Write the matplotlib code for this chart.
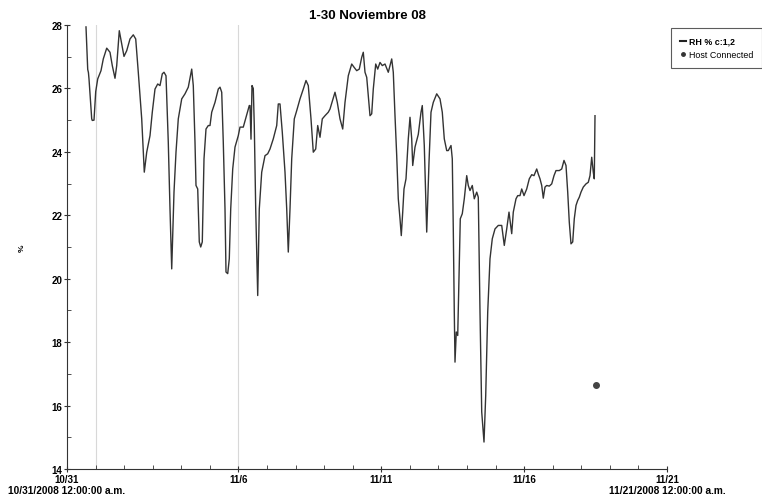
import numpy as np
import pandas as pd
import matplotlib
matplotlib.use('Agg')
import matplotlib.pyplot as plt
import matplotlib.dates as mdates
from matplotlib.lines import Line2D

plt.rcParams['font.family'] = ['Liberation Sans', 'DejaVu Sans']

# tiempo en dias desde 10/31/2008 00:00 y humedad relativa (%)
dias = [0.665, 0.725, 0.75, 0.77, 0.865, 0.885, 0.945, 1.005, 1.075, 1.19,
        1.27, 1.39, 1.505, 1.585, 1.68, 1.74, 1.83, 1.915, 1.995, 2.09,
        2.205, 2.32, 2.405, 2.495, 2.615, 2.705, 2.79, 2.905, 2.985, 3.08,
        3.175, 3.255, 3.335, 3.395, 3.465, 3.545, 3.605, 3.665, 3.745, 3.815,
        3.895, 4.015, 4.13, 4.245, 4.365, 4.42, 4.48, 4.515, 4.575, 4.63,
        4.68, 4.735, 4.795, 4.865, 4.945, 5.005, 5.065, 5.18, 5.295, 5.355,
        5.415, 5.47, 5.53, 5.565, 5.625, 5.68, 5.73, 5.8, 5.88, 5.995,
        6.055, 6.17, 6.265, 6.38, 6.405, 6.44, 6.475, 6.52, 6.555, 6.605,
        6.675, 6.73, 6.815, 6.93, 7.025, 7.105, 7.22, 7.34, 7.395, 7.455,
        7.535, 7.63, 7.69, 7.745, 7.805, 7.865, 7.955, 8.04, 8.155, 8.27,
        8.365, 8.445, 8.54, 8.62, 8.705, 8.775, 8.855, 8.935, 9.03, 9.145,
        9.205, 9.38, 9.46, 9.555, 9.65, 9.73, 9.845, 9.965, 10.045, 10.14,
        10.23, 10.315, 10.37, 10.43, 10.49, 10.545, 10.605, 10.665, 10.72, 10.805,
        10.875, 10.955, 11.035, 11.13, 11.245, 11.365, 11.42, 11.48, 11.54, 11.595,
        11.655, 11.7, 11.75, 11.795, 11.865, 11.945, 12.005, 12.065, 12.1, 12.18,
        12.295, 12.39, 12.435, 12.505, 12.59, 12.67, 12.74, 12.82, 12.94, 13.055,
        13.135, 13.205, 13.29, 13.345, 13.44, 13.485, 13.52, 13.555, 13.58, 13.625,
        13.675, 13.72, 13.765, 13.835, 13.905, 13.99, 14.045, 14.105, 14.185, 14.255,
        14.34, 14.395, 14.455, 14.515, 14.595, 14.655, 14.725, 14.805, 14.885, 14.98,
        15.095, 15.215, 15.305, 15.39, 15.47, 15.565, 15.62, 15.715, 15.775, 15.855,
        15.915, 15.995, 16.09, 16.18, 16.265, 16.345, 16.44, 16.495, 16.555, 16.615,
        16.67, 16.73, 16.79, 16.88, 16.965, 17.045, 17.115, 17.23, 17.315, 17.395,
        17.465, 17.525, 17.58, 17.64, 17.7, 17.755, 17.815, 17.875, 17.93, 17.99,
        18.07, 18.165, 18.245, 18.305, 18.365, 18.42, 18.455, 18.48]
rh = [27.94, 26.6, 26.5, 26.3, 25.04, 24.99, 25.0, 25.9, 26.3, 26.56,
      26.93, 27.27, 27.14, 26.72, 26.32, 26.72, 27.82, 27.4, 27.01, 27.19,
      27.56, 27.69, 27.56, 26.51, 25.04, 23.36, 23.99, 24.51, 25.25, 25.98,
      26.14, 26.09, 26.46, 26.51, 26.4, 24.3, 22.2, 20.31, 22.73, 23.99,
      25.04, 25.67, 25.83, 26.04, 26.61, 26.09, 24.3, 22.94, 22.83, 21.16,
      21.0, 21.16, 23.78, 24.72, 24.83, 24.83, 25.25, 25.56, 25.98, 26.04,
      25.88, 24.3, 22.2, 20.21, 20.16, 20.63, 22.2, 23.46, 24.15, 24.51,
      24.78, 24.78, 25.09, 25.46, 25.46, 24.4, 26.09, 26.0, 24.83, 22.2,
      19.47, 22.2, 23.36, 23.88, 23.94, 24.09, 24.41, 24.83, 25.51, 25.51,
      24.62, 23.36, 22.2, 20.84, 22.2, 23.78, 25.04, 25.3, 25.67, 25.98,
      26.25, 26.09, 25.04, 23.99, 24.09, 24.83, 24.46, 25.04, 25.14, 25.25,
      25.35, 25.88, 25.56, 25.04, 24.72, 25.56, 26.4, 26.77, 26.67, 26.56,
      26.61, 26.98, 27.14, 26.51, 26.35, 25.77, 25.14, 25.2, 25.98, 26.77,
      26.61, 26.82, 26.72, 26.77, 26.51, 26.93, 26.51, 25.14, 23.88, 22.52,
      21.89, 21.36, 22.1, 22.83, 23.15, 24.41, 25.09, 24.41, 23.57, 24.15,
      24.55, 25.25, 25.46, 24.2, 21.47, 23.67, 25.25, 25.56, 25.83, 25.67,
      25.25, 24.41, 24.04, 24.04, 24.2, 23.78, 21.57, 18.95, 17.37, 18.32,
      18.21, 20.0, 21.89, 22.05, 22.52, 23.25, 22.94, 22.78, 22.94, 22.52,
      22.73, 22.57, 18.95, 15.8, 14.85, 16.32, 18.95, 20.63, 21.26, 21.57,
      21.68, 21.68, 21.05, 21.57, 22.1, 21.42, 22.1, 22.52, 22.62, 22.62,
      22.83, 22.62, 22.83, 23.15, 23.28, 23.25, 23.46, 23.3, 23.15, 22.94,
      22.54, 22.89, 22.94, 22.92, 22.99, 23.25, 23.41, 23.41, 23.46, 23.73,
      23.57, 22.73, 21.78, 21.1, 21.16, 21.89, 22.31, 22.47, 22.57, 22.73,
      22.89, 22.99, 23.04, 23.25, 23.83, 23.36, 23.15, 25.14]

# evento "Host Connected"
host_dia = [18.505]
host_rh = [16.64]

inicio = pd.Timestamp('2008-10-31')
fin = pd.Timestamp('2008-11-21')
ticks_x = ['2008-10-31', '2008-11-06', '2008-11-11', '2008-11-16', '2008-11-21']
etiquetas_x = ['10/31', '11/6', '11/11', '11/16', '11/21']
lineas_v = ['2008-11-01', '2008-11-06']


def solve():
    t = inicio + pd.to_timedelta(np.array(dias), unit='D')
    t_host = inicio + pd.to_timedelta(np.array(host_dia), unit='D')

    fig = plt.figure(figsize=(7.62, 5.02), dpi=100)
    ax = fig.add_axes([67 / 762, 32 / 502, 600 / 762, 444 / 502])

    # lineas verticales tenues
    for d in lineas_v:
        ax.axvline(pd.Timestamp(d), color='#d8d8d8', lw=0.8, zorder=0)

    ax.plot(t, rh, color='#333333', lw=1.0)
    ax.plot(t_host, host_rh, 'o', color='#444444', ms=4)

    ax.set_xlim(inicio, fin)
    ax.set_ylim(14, 28)

    ax.set_xticks([pd.Timestamp(d) for d in ticks_x])
    ax.set_xticklabels(etiquetas_x, fontsize=7, fontweight='bold')
    ax.xaxis.set_minor_locator(mdates.DayLocator())
    ax.set_yticks(np.arange(14, 29, 2))
    ax.set_yticklabels([str(v) for v in range(14, 29, 2)],
                       fontsize=7, fontweight='bold')
    ax.set_yticks(np.arange(15, 28, 2), minor=True)

    ax.tick_params(axis='both', which='major', direction='inout', length=5,
                   width=0.8, color='#333333', pad=1)
    ax.tick_params(axis='both', which='minor', direction='in', length=3,
                   width=0.6, color='#333333')

    for s in ['top', 'right']:
        ax.spines[s].set_visible(False)
    for s in ['left', 'bottom']:
        ax.spines[s].set_color('#333333')
        ax.spines[s].set_linewidth(0.8)

    ax.set_ylabel('%', fontsize=6, fontweight='bold', labelpad=18)
    ax.set_title('1-30 Noviembre 08', fontsize=9.5, fontweight='bold', pad=5)

    ax.text(0, -0.037, '10/31/2008 12:00:00 a.m.', transform=ax.transAxes,
            ha='center', va='top', fontsize=7.3, fontweight='bold')
    ax.text(1, -0.037, '11/21/2008 12:00:00 a.m.', transform=ax.transAxes,
            ha='center', va='top', fontsize=7.3, fontweight='bold')

    handles = [Line2D([], [], color='#222222', lw=1.5),
               Line2D([], [], marker='o', ls='', color='#333333', ms=2.5)]
    leg = fig.legend(handles, ['RH % c:1,2', 'Host Connected'],
                     loc='upper left', bbox_to_anchor=(671 / 762, 1 - 29 / 502),
                     fontsize=6.4, frameon=True, fancybox=False,
                     handlelength=0.7, handletextpad=0.3, borderpad=1.0,
                     labelspacing=0.45, borderaxespad=0)
    leg.get_frame().set_edgecolor('#333333')
    leg.get_frame().set_linewidth(0.8)
    leg.get_texts()[0].set_fontweight('bold')
    leg._legend_box.align = 'left'

    fig.savefig('out.png', dpi=100)


if __name__ == '__main__':
    solve()
